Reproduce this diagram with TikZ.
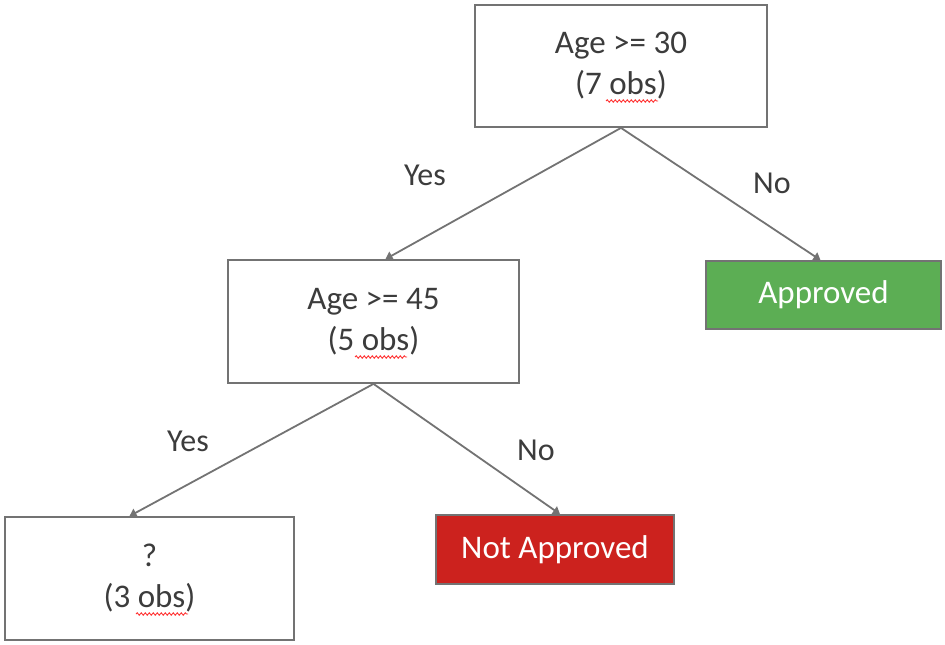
\documentclass[tikz,border=0pt]{standalone}
\usepackage{fontspec}
\setmainfont{Carlito}
\usetikzlibrary{arrows.meta,decorations.pathmorphing}
\definecolor{lgray}{RGB}{115,115,115}
\definecolor{tgray}{RGB}{60,60,60}
\definecolor{okgreen}{RGB}{92,174,84}
\definecolor{nored}{RGB}{204,34,30}
\begin{document}
\begin{tikzpicture}[x=1pt,y=-1pt,
  box/.style={draw=lgray,line width=1.8pt,fill=white,align=center,text=tgray,
    font=\fontsize{33}{41}\selectfont,inner sep=0pt},
  leaf/.style={draw=lgray,line width=1.8pt,text=white,
    font=\fontsize{33}{41}\selectfont,inner sep=0pt},
  conn/.style={draw=lgray,line width=1.8pt,-{Triangle[width=9pt,length=7pt]}},
  lbl/.style={text=tgray,font=\fontsize{32}{38}\selectfont,inner sep=0pt},
  squig/.style={draw=red!80!white,line width=0.9pt,decorate,
    decoration={snake,amplitude=1.2pt,segment length=4pt}}]
\useasboundingbox (0,0) rectangle (945,645);
\node[box,minimum width=292pt,minimum height=122pt] (top) at (621,66) {Age >= 30\\(7 obs)};
\node[box,minimum width=291pt,minimum height=123pt] (mid) at (373.5,321.5) {Age >= 45\\(5 obs)};
\node[leaf,fill=okgreen,minimum width=235pt,minimum height=68pt] (app) at (823.5,295) {Approved};
\node[box,minimum width=289pt,minimum height=123pt] (q) at (149.5,578.5) {?\\(3 obs)};
\node[leaf,fill=nored,minimum width=238pt,minimum height=69pt] (nap) at (555,549.5) {Not Approved};
\draw[conn] (top.south) -- ([xshift=12pt]mid.north);
\draw[conn] (top.south) -- ([xshift=-3pt]app.north);
\draw[conn] (mid.south) -- ([xshift=-20pt]q.north);
\draw[conn] (mid.south) -- ([xshift=5pt]nap.north);
\node[lbl] (l1) at (425,175) {Yes};
\node[lbl] (l2) at (772,183) {No};
\node[lbl] (l3) at (188,441) {Yes};
\node[lbl] (l4) at (536,450) {No};
\draw[squig] (606,101) -- (658,101);
\draw[squig] (355,357) -- (407,357);
\draw[squig] (136,614) -- (188,614);
\end{tikzpicture}
\end{document}
